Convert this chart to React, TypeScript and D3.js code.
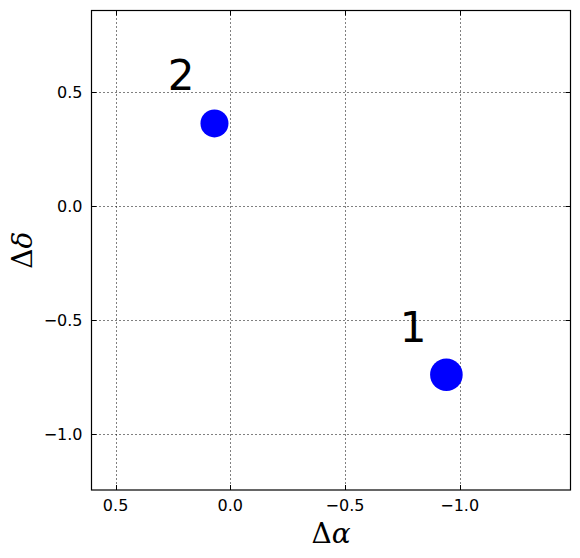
import * as d3 from 'd3';
import React, { useEffect, useRef } from 'react';

// offsets of the two components
const ids = ['1', '2'];
const dAlpha = [-0.942, 0.069];
const dDelta = [-0.739, 0.363];
const sizes = [16.3, 14];
const labelOffset = 0.145;

const xTicks = [0.5, 0.0, -0.5, -1.0];
const yTicks = [0.5, 0.0, -0.5, -1.0];

const width = 580;
const height = 558;
const margin = {top: 10.5, right: 9.5, bottom: 68, left: 91.5};

const fmt = (v: number) => (v < 0 ? '\u2212' + Math.abs(v).toFixed(1) : v.toFixed(1));

export default function App() {
  const ref = useRef<SVGSVGElement>(null);

  useEffect(() => {
    const w = width - margin.left - margin.right;
    const h = height - margin.top - margin.bottom;
    const x = d3.scaleLinear().domain([0.605, -1.483]).range([0, w]);
    const y = d3.scaleLinear().domain([0.858, -1.244]).range([0, h]);
    const px = (v: number) => Math.round(x(v) + margin.left) + 0.5 - margin.left;
    const py = (v: number) => Math.round(y(v) + margin.top) + 0.5 - margin.top;

    const svg = d3.select(ref.current);
    svg.selectAll('*').remove();
    const g = svg.append('g').attr('transform', `translate(${margin.left}, ${margin.top})`);

    // grid
    g.selectAll('line.gx')
      .data(xTicks)
      .enter()
      .append('line')
      .attr('x1', d => px(d)).attr('x2', d => px(d))
      .attr('y1', 0).attr('y2', h)
      .attr('stroke', '#000').attr('stroke-width', 1)
      .attr('stroke-dasharray', '1,3');
    g.selectAll('line.gy')
      .data(yTicks)
      .enter()
      .append('line')
      .attr('y1', d => py(d)).attr('y2', d => py(d))
      .attr('x1', 0).attr('x2', w)
      .attr('stroke', '#000').attr('stroke-width', 1)
      .attr('stroke-dasharray', '1,3');

    // inward ticks on all four sides
    const tl = 5;
    xTicks.forEach(t => {
      g.append('line').attr('x1', px(t)).attr('x2', px(t)).attr('y1', h).attr('y2', h - tl).attr('stroke', '#000');
      g.append('line').attr('x1', px(t)).attr('x2', px(t)).attr('y1', 0).attr('y2', tl).attr('stroke', '#000');
    });
    yTicks.forEach(t => {
      g.append('line').attr('y1', py(t)).attr('y2', py(t)).attr('x1', 0).attr('x2', tl).attr('stroke', '#000');
      g.append('line').attr('y1', py(t)).attr('y2', py(t)).attr('x1', w).attr('x2', w - tl).attr('stroke', '#000');
    });

    // tick labels
    g.selectAll('text.xt')
      .data(xTicks)
      .enter()
      .append('text')
      .attr('x', d => x(d))
      .attr('y', h + 21)
      .attr('text-anchor', 'middle')
      .attr('font-family', 'DejaVu Sans')
      .attr('font-size', 16)
      .text(d => fmt(d));
    g.selectAll('text.yt')
      .data(yTicks)
      .enter()
      .append('text')
      .attr('x', -9)
      .attr('y', d => y(d))
      .attr('dy', '0.36em')
      .attr('text-anchor', 'end')
      .attr('font-family', 'DejaVu Sans')
      .attr('font-size', 16)
      .text(d => fmt(d));

    // points
    g.selectAll('circle')
      .data(ids)
      .enter()
      .append('circle')
      .attr('cx', (d, i) => x(dAlpha[i]))
      .attr('cy', (d, i) => y(dDelta[i]))
      .attr('r', (d, i) => sizes[i])
      .attr('fill', '#0000ff');

    g.selectAll('text.lbl')
      .data(ids)
      .enter()
      .append('text')
      .attr('x', (d, i) => x(dAlpha[i] + labelOffset))
      .attr('y', (d, i) => y(dDelta[i] + labelOffset))
      .attr('text-anchor', 'middle')
      .attr('font-family', 'DejaVu Sans')
      .attr('font-size', 42)
      .text(d => d);

    // frame
    g.append('rect')
      .attr('width', w).attr('height', h)
      .attr('fill', 'none').attr('stroke', '#000').attr('stroke-width', 1.2);

    // axis labels
    const xl = g.append('text')
      .attr('x', w / 2)
      .attr('y', h + 53)
      .attr('text-anchor', 'middle')
      .attr('font-family', 'DejaVu Serif')
      .attr('font-size', 28);
    xl.append('tspan').text('\u0394');
    xl.append('tspan').attr('font-style', 'italic').text('\u03b1');

    const yl = g.append('text')
      .attr('transform', `translate(${32 - margin.left}, ${h / 2}) rotate(-90)`)
      .attr('text-anchor', 'middle')
      .attr('font-family', 'DejaVu Serif')
      .attr('font-size', 28);
    yl.append('tspan').text('\u0394');
    yl.append('tspan').attr('font-style', 'italic').text('\u03b4');
  }, []);

  return (
    <svg ref={ref} width={width} height={height} style={{position: 'absolute', left: 0, top: 0, background: '#fff'}} />
  );
}
